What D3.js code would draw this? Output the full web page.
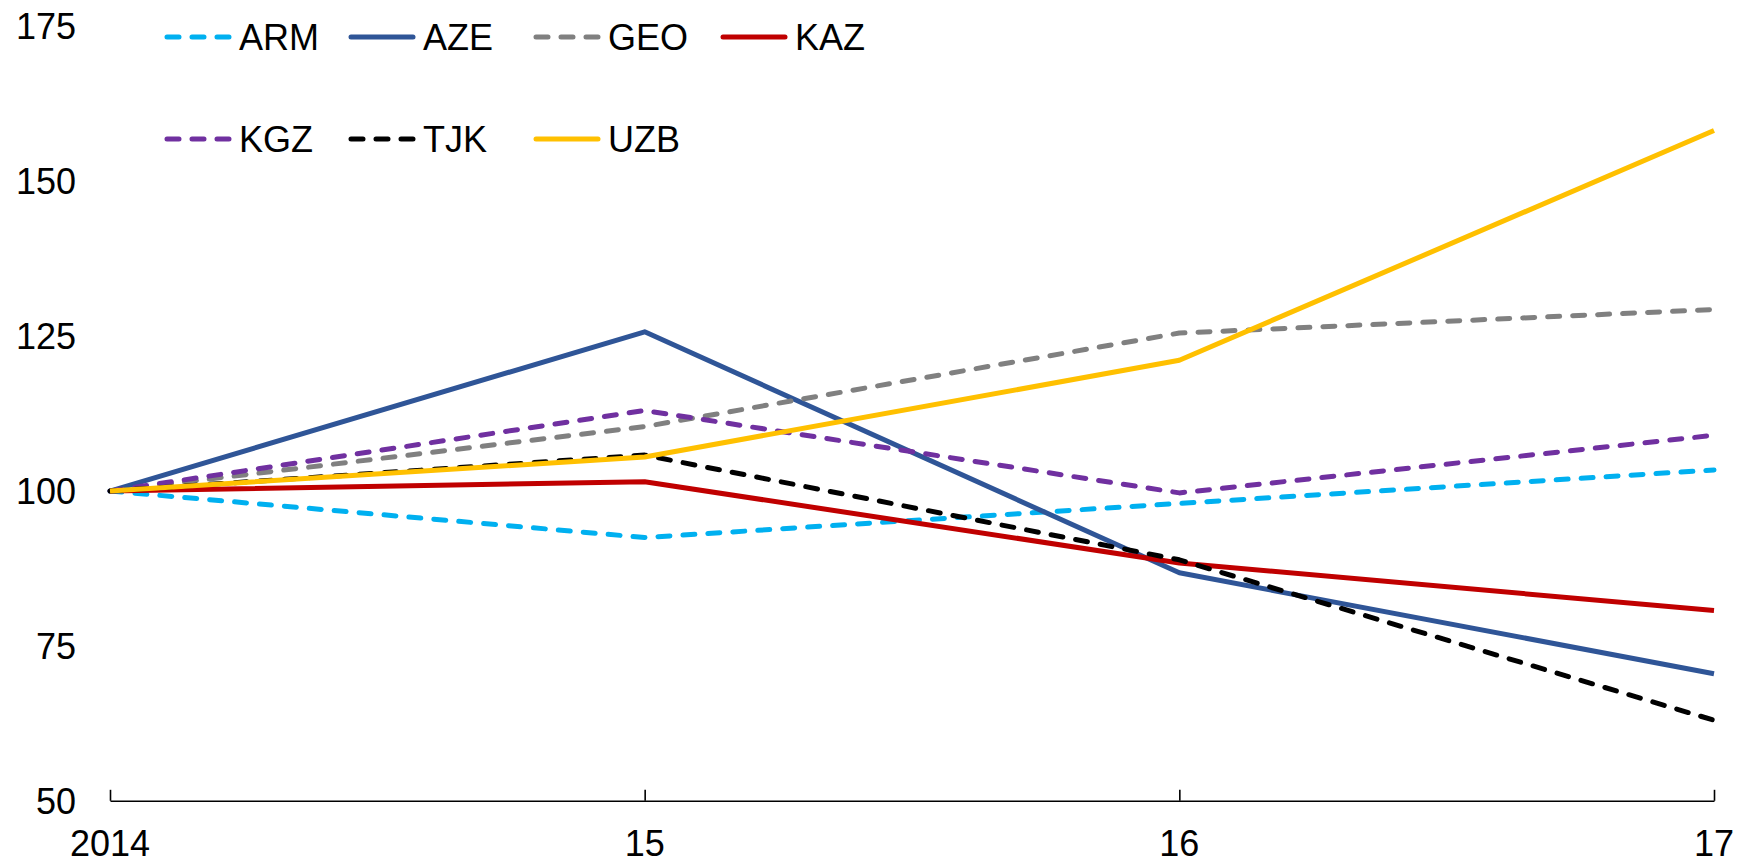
<!DOCTYPE html>
<html>
<head>
<meta charset="utf-8">
<script src="https://cdn.jsdelivr.net/npm/d3@7"></script>
<style>
    body { margin: 0; background: #fff; }
    svg text { font-family: "Liberation Sans", Arial, sans-serif; fill: #000; }
</style>
</head>
<body>
<div id="chart"></div>
<script>
    'use strict';

    var years = ['2014', '15', '16', '17'];
    var yTicks = [50, 75, 100, 125, 150, 175];

    var ARM = [100, 92.5, 98.0, 103.4];
    var AZE = [100, 125.7, 86.8, 70.5];
    var GEO = [100, 110.4, 125.5, 129.3];
    var KAZ = [100, 101.5, 88.4, 80.7];
    var KGZ = [100, 113.0, 99.7, 109.0];
    var TJK = [100, 105.8, 88.9, 63.0];
    var UZB = [100, 105.5, 121.1, 158.2];

    var series = [
        {name : 'ARM', values : ARM, color : '#00B0F0', dashed : true},
        {name : 'AZE', values : AZE, color : '#2F5597', dashed : false},
        {name : 'GEO', values : GEO, color : '#808080', dashed : true},
        {name : 'KAZ', values : KAZ, color : '#C00000', dashed : false},
        {name : 'KGZ', values : KGZ, color : '#7030A0', dashed : true},
        {name : 'TJK', values : TJK, color : '#000000', dashed : true},
        {name : 'UZB', values : UZB, color : '#FFC000', dashed : false}
    ];

    (function drawChart() {

        var width = 1746,
            height = 863,
            plotLeft = 110,
            plotRight = 1714,
            plotTop = 26.4,
            plotBottom = 800.8,
            lineWidth = 5,
            dash = '12,13';

        var svg = d3.select('#chart').append('svg')
            .attr('width', width)
            .attr('height', height);

        var x = d3.scalePoint().domain(years).range([plotLeft, plotRight]);
        var y = d3.scaleLinear().domain([50, 175]).range([plotBottom, plotTop]);

        // y labels only, no axis line
        svg.append('g')
            .selectAll('text')
            .data(yTicks)
            .enter().append('text')
                .attr('x', 76)
                .attr('y', function(d) { return y(d); })
                .attr('dy', '0.36em')
                .attr('text-anchor', 'end')
                .attr('font-size', 36)
                .text(function(d) { return d; });

        // category axis with ticks pointing up
        var xAxis = svg.append('g')
            .attr('transform', 'translate(0,' + plotBottom + ')')
            .call(d3.axisTop(x).tickSize(11).tickSizeOuter(0).tickFormat(''));
        xAxis.select('.domain').attr('stroke', '#000').attr('stroke-width', 1.6);
        xAxis.selectAll('.tick line').attr('stroke', '#000').attr('stroke-width', 1.6);

        svg.append('g')
            .selectAll('text')
            .data(years)
            .enter().append('text')
                .attr('x', function(d) { return x(d); })
                .attr('y', 856)
                .attr('text-anchor', 'middle')
                .attr('font-size', 36)
                .text(function(d) { return d; });

        var line = d3.line()
            .x(function(d, i) { return x(years[i]); })
            .y(function(d) { return y(d); });

        svg.append('g')
            .selectAll('path')
            .data(series)
            .enter().append('path')
                .attr('d', function(d) { return line(d.values); })
                .attr('fill', 'none')
                .attr('stroke', function(d) { return d.color; })
                .attr('stroke-width', lineWidth)
                .attr('stroke-linejoin', 'round')
                .attr('stroke-linecap', function(d) { return d.dashed ? 'round' : 'butt'; })
                .attr('stroke-dasharray', function(d) { return d.dashed ? dash : null; });

        // legend: two rows, four columns
        var legX = [165, 349, 534, 721],
            legY = [37, 139],
            sampleLen = 64;

        var leg = svg.append('g')
            .selectAll('g')
            .data(series)
            .enter().append('g')
                .attr('transform', function(d, i) {
                    return 'translate(' + legX[i % 4] + ',' + legY[Math.floor(i / 4)] + ')';
                });

        leg.append('line')
            .attr('x1', 2)
            .attr('x2', sampleLen)
            .attr('stroke', function(d) { return d.color; })
            .attr('stroke-width', lineWidth)
            .attr('stroke-linecap', 'round')
            .attr('stroke-dasharray', function(d) { return d.dashed ? dash : null; });

        leg.append('text')
            .attr('x', sampleLen + 10)
            .attr('dy', '0.36em')
            .attr('font-size', 36)
            .text(function(d) { return d.name; });

    })();
</script>
</body>
</html>
